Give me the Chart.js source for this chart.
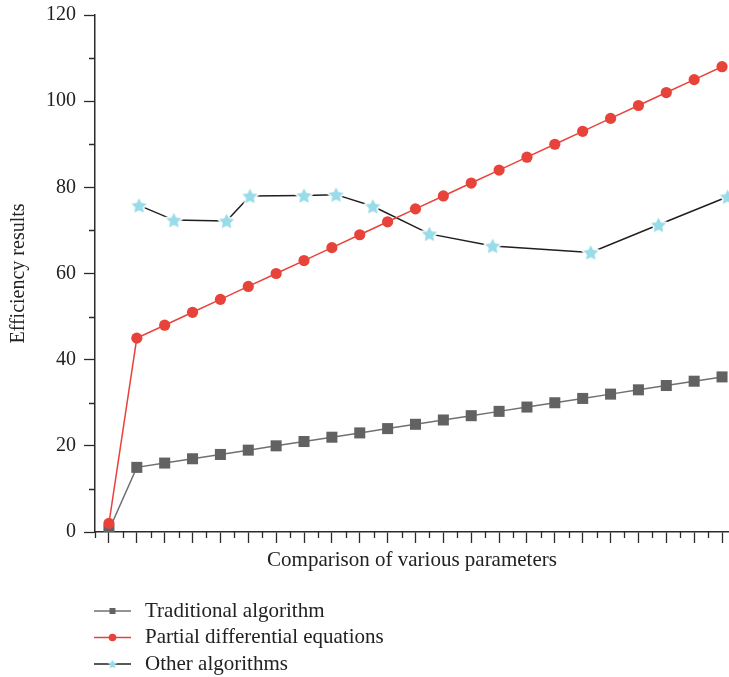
<!DOCTYPE html>
<html>
<head>
<meta charset="utf-8">
<script src="https://cdn.jsdelivr.net/npm/chart.js@4.4.1/dist/chart.umd.min.js"></script>
<style>
  html, body { margin: 0; padding: 0; background: #fff; }
  #wrap { width: 729px; height: 677px; }
</style>
</head>
<body>
<div id="wrap"><canvas id="chart" width="729" height="677"></canvas></div>
<script>
const SERIF = "'Liberation Serif', 'DejaVu Serif', serif";

// x positions are in tick units (0 = first long tick)
const steps = Array.from({ length: 23 }, (_, i) => i);
const traditional = [0.4, 15, 16, 17, 18, 19, 20, 21, 22, 23, 24, 25, 26, 27, 28, 29, 30, 31, 32, 33, 34, 35, 36];
const pde = [2, 45, 48, 51, 54, 57, 60, 63, 66, 69, 72, 75, 78, 81, 84, 87, 90, 93, 96, 99, 102, 105, 108];
const otherX = [1.08, 2.33, 4.22, 5.06, 7.0, 8.15, 9.47, 11.5, 13.77, 17.29, 19.72, 22.2];
const otherY = [75.8, 72.4, 72.2, 78.0, 78.1, 78.3, 75.6, 69.2, 66.4, 64.9, 71.3, 77.8];
const yTicks = [0, 20, 40, 60, 80, 100, 120];
const seriesNames = ["Traditional algorithm", "Partial differential equations", "Other algorithms"];

const GRAY_LINE = "#707070", GRAY_PT = "#626262";
const RED = "#e8433b";
const STAR = "#98dcea";
const AXIS = "#2b2b2b";

function starCanvas(outer, color, halo) {
  const size = Math.ceil(outer * 2 + halo * 2 + 2);
  const c = document.createElement("canvas");
  c.width = size; c.height = size;
  const g = c.getContext("2d");
  const cx = size / 2, cy = size / 2 + outer * 0.1;
  const inner = outer * 0.5;
  g.beginPath();
  for (let i = 0; i < 10; i++) {
    const r = i % 2 === 0 ? outer : inner;
    const a = -Math.PI / 2 + i * Math.PI / 5;
    g.lineTo(cx + r * Math.cos(a), cy + r * Math.sin(a));
  }
  g.closePath();
  if (halo) {
    g.lineJoin = "round";
    g.lineWidth = halo * 2;
    g.strokeStyle = "#fff";
    g.stroke();
  }
  g.fillStyle = color;
  g.fill();
  return c;
}
const bigStar = starCanvas(8, STAR, 1.5);
const smallStar = starCanvas(4.8, STAR, 0);

// short ticks between the long ones, and the list legend under the axis title
const extrasPlugin = {
  id: "extras",
  afterDraw(chart) {
    const { ctx, chartArea, scales } = chart;
    ctx.save();
    ctx.strokeStyle = AXIS;
    ctx.lineWidth = 1.3;
    ctx.beginPath();
    for (let v = -0.5; v <= 22.3; v += 1) {
      const px = Math.round(scales.x.getPixelForValue(v)) + 0.5;
      ctx.moveTo(px, chartArea.bottom);
      ctx.lineTo(px, chartArea.bottom + 6);
    }
    for (let v = 10; v < 120; v += 20) {
      const py = Math.round(scales.y.getPixelForValue(v)) + 0.5;
      ctx.moveTo(chartArea.left - 6, py);
      ctx.lineTo(chartArea.left, py);
    }
    ctx.stroke();

    const rows = [611, 637.5, 664];
    ctx.font = "21px " + SERIF;
    ctx.textBaseline = "middle";
    rows.forEach((y, i) => {
      ctx.strokeStyle = [GRAY_LINE, RED, "#222"][i];
      ctx.lineWidth = 1.5;
      ctx.beginPath();
      ctx.moveTo(94, y);
      ctx.lineTo(131, y);
      ctx.stroke();
      if (i === 0) {
        ctx.fillStyle = GRAY_PT;
        ctx.fillRect(109.5, y - 3, 6, 6);
      } else if (i === 1) {
        ctx.fillStyle = RED;
        ctx.beginPath();
        ctx.arc(112.5, y, 3.8, 0, Math.PI * 2);
        ctx.fill();
      } else {
        ctx.drawImage(smallStar, 112.5 - smallStar.width / 2, y - smallStar.height / 2);
      }
      ctx.fillStyle = "#222";
      ctx.fillText(seriesNames[i], 145, y);
    });
    ctx.restore();
  }
};

new Chart(document.getElementById("chart"), {
  type: "line",
  data: {
    datasets: [
      {
        label: seriesNames[0],
        data: steps.map((x, i) => ({ x, y: traditional[i] })),
        borderColor: GRAY_LINE,
        backgroundColor: GRAY_PT,
        borderWidth: 1.5,
        pointStyle: "rect",
        pointRadius: 7.8,
        pointBorderWidth: 0,
        order: 1,
      },
      {
        label: seriesNames[1],
        data: steps.map((x, i) => ({ x, y: pde[i] })),
        borderColor: RED,
        backgroundColor: RED,
        borderWidth: 1.5,
        pointStyle: "circle",
        pointRadius: 5.6,
        pointBorderWidth: 0,
        order: 0,
      },
      {
        label: seriesNames[2],
        data: otherX.map((x, i) => ({ x, y: otherY[i] })),
        borderColor: "#1f1f1f",
        backgroundColor: STAR,
        borderWidth: 1.5,
        pointStyle: bigStar,
        pointRadius: 8,
        order: 2,
      },
    ],
  },
  options: {
    responsive: false,
    animation: false,
    layout: { autoPadding: false, padding: { top: 15, right: 0, bottom: 87, left: 0 } },
    plugins: {
      legend: { display: false },
      tooltip: { enabled: false },
    },
    elements: { line: { tension: 0 } },
    scales: {
      x: {
        type: "linear",
        min: -0.5,
        max: 22.25,
        afterBuildTicks: (scale) => { scale.ticks = steps.map((v) => ({ value: v })); },
        afterFit: (scale) => {
          scale.height = 58;
          scale.paddingLeft = 0;
          scale.paddingRight = 0;
        },
        ticks: { callback: () => "", padding: 0 },
        grid: { drawOnChartArea: false, drawTicks: true, tickLength: 11, tickColor: AXIS, tickWidth: 1.3 },
        border: { display: true, color: AXIS, width: 1.5 },
        title: {
          display: true,
          text: "Comparison of various parameters",
          font: { family: SERIF, size: 21 },
          color: "#222",
          padding: { top: 0, bottom: 17 },
        },
      },
      y: {
        min: 0,
        max: 120,
        afterBuildTicks: (scale) => { scale.ticks = yTicks.map((v) => ({ value: v })); },
        afterFit: (scale) => {
          scale.width = 95;
          scale.paddingTop = 0;
          scale.paddingBottom = 0;
        },
        ticks: { font: { family: SERIF, size: 20 }, color: "#222", padding: 8 },
        grid: { drawOnChartArea: false, drawTicks: true, tickLength: 11, tickColor: AXIS, tickWidth: 1.3 },
        border: { display: true, color: AXIS, width: 1.5 },
        title: {
          display: true,
          text: "Efficiency results",
          font: { family: SERIF, size: 20 },
          color: "#222",
          padding: 7,
        },
      },
    },
  },
  plugins: [extrasPlugin],
});
</script>
</body>
</html>
